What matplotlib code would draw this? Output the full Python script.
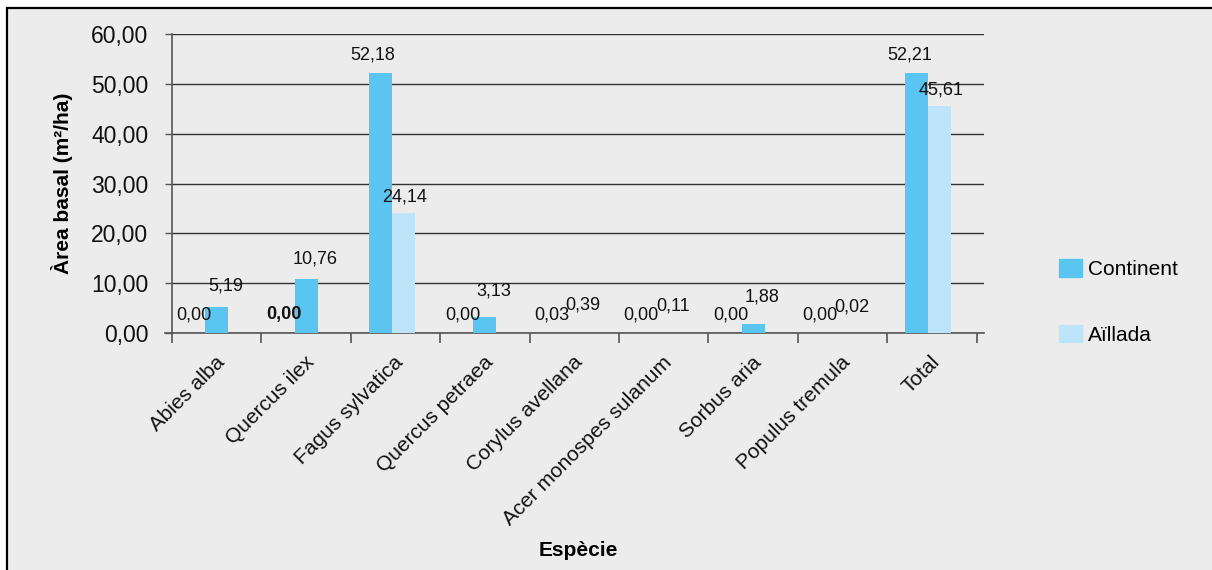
import matplotlib
matplotlib.use("Agg")
import matplotlib.pyplot as plt
import matplotlib.transforms as mtransforms
from matplotlib.patches import Rectangle
import numpy as np

plt.rcParams['font.family'] = ['Liberation Sans', 'DejaVu Sans']

# data
species = ["Abies alba", "Quercus ilex", "Fagus sylvatica", "Quercus petraea",
           "Corylus avellana", "Acer monospes sulanum", "Sorbus aria",
           "Populus tremula", "Total"]
# visible bars
continent = [5.19, 10.76, 52.18, 3.13, 0.0, 0.0, 1.88, 0.0, 52.21]
aillada = [0.0, 0.0, 24.14, 0.0, 0.0, 0.0, 0.0, 0.0, 45.61]
# data labels as printed (left one and right one per category)
left_labels = ["0,00", "0,00", "52,18", "0,00", "0,03", "0,00", "0,00", "0,00", "52,21"]
right_labels = ["5,19", "10,76", "24,14", "3,13", "0,39", "0,11", "1,88", "0,02", "45,61"]
left_vals = [0.0, 0.0, 52.18, 0.0, 0.03, 0.0, 0.0, 0.0, 52.21]
right_vals = [5.19, 10.76, 24.14, 3.13, 0.39, 0.11, 1.88, 0.02, 45.61]
yticks = [0, 10, 20, 30, 40, 50, 60]

C_DARK = "#5BC5F1"
C_LIGHT = "#BDE4F8"
BG = "#ECECEC"
AX_COL = "#555555"

fig = plt.figure(figsize=(12.12, 5.70), dpi=100)
fig.patch.set_facecolor("white")
# chart area frame (black edge top/left, runs off the image right/bottom)
fig.patches.append(Rectangle((7 / 1212, -0.05), 1.2, 1 - 8 / 570 + 0.05,
                             transform=fig.transFigure, facecolor=BG,
                             edgecolor="black", linewidth=1.6, zorder=-1))

ax = fig.add_axes([172 / 1212, 1 - 333 / 570, (984 - 172) / 1212, (333 - 34) / 570])
ax.set_facecolor("none")
ax.set_zorder(2)

x = np.arange(len(species))
w = 0.257
for i in x:
    if continent[i] > 0 and aillada[i] > 0:
        ax.bar(i - w / 2 - 0.04, continent[i], w, color=C_DARK, zorder=3)
        ax.bar(i + w / 2 - 0.04, aillada[i], w, color=C_LIGHT, zorder=3)
    elif continent[i] > 0:
        ax.bar(i, continent[i], w, color=C_DARK, zorder=3)

# data labels
for i in x:
    ax.annotate(left_labels[i], (i - 0.25, left_vals[i]), xytext=(0, 13),
                textcoords="offset points", ha="center", va="center",
                fontsize=13, color="#111111", zorder=5,
                fontweight="bold" if i == 1 else "normal")
    off = 11 if right_vals[i] >= 20 else (15 if right_vals[i] >= 4 else 19)
    ax.annotate(right_labels[i], (i + 0.1, right_vals[i]), xytext=(0, off),
                textcoords="offset points", ha="center", va="center",
                fontsize=13, color="#111111", zorder=5)

ax.set_xlim(-0.5, 8.583)
ax.set_ylim(0, 60)
ax.set_yticks(yticks)
ax.set_yticklabels([f"{v:.2f}".replace(".", ",") for v in yticks], fontsize=16.5, color="#111111")
ax.yaxis.grid(True, color="#333333", linewidth=1.0, zorder=1)
ax.tick_params(axis="y", length=5, width=1, color=AX_COL, pad=12)

# category boundaries as major ticks, names on minor ticks
ax.set_xticks(np.arange(len(species) + 1) - 0.5)
ax.set_xticklabels([])
ax.tick_params(axis="x", which="major", length=7.5, width=1.2, color=AX_COL)
ax.set_xticks(x, minor=True)
ax.set_xticklabels(species, minor=True, rotation=45, ha="right",
                   va="center", rotation_mode="anchor", fontsize=15, color="#111111")
ax.tick_params(axis="x", which="minor", length=0, pad=19)
shift = mtransforms.ScaledTranslation(5 / 100, 0, fig.dpi_scale_trans)
for lab in ax.get_xticklabels(minor=True):
    lab.set_transform(lab.get_transform() + shift)

for s in ["top", "right"]:
    ax.spines[s].set_visible(False)
ax.spines["left"].set_color(AX_COL)
ax.spines["bottom"].set_color(AX_COL)
ax.spines["left"].set_linewidth(1.2)
ax.spines["bottom"].set_linewidth(1.2)
ax.spines["bottom"].set_bounds(-0.5 - 7 / 89.3, 8.583)

ax.set_ylabel("Àrea basal (m²/ha)", fontsize=15, fontweight="bold")
ax.yaxis.set_label_coords(-(172 - 73) / 812, 0.5)
ax.set_xlabel("Espècie", fontsize=15, fontweight="bold")
ax.xaxis.set_label_coords(0.5, -(541 - 333) / 299)

handles = [Rectangle((0, 0), 1, 1, color=C_DARK), Rectangle((0, 0), 1, 1, color=C_LIGHT)]
fig.legend(handles, ["Continent", "Aïllada"], loc="center left",
           bbox_to_anchor=(1040 / 1212, 1 - 302 / 570), frameon=False,
           fontsize=15, handlelength=1.1, handleheight=0.9, handletextpad=0.3,
           labelspacing=2.2)

fig.savefig("out.png", dpi=100)
